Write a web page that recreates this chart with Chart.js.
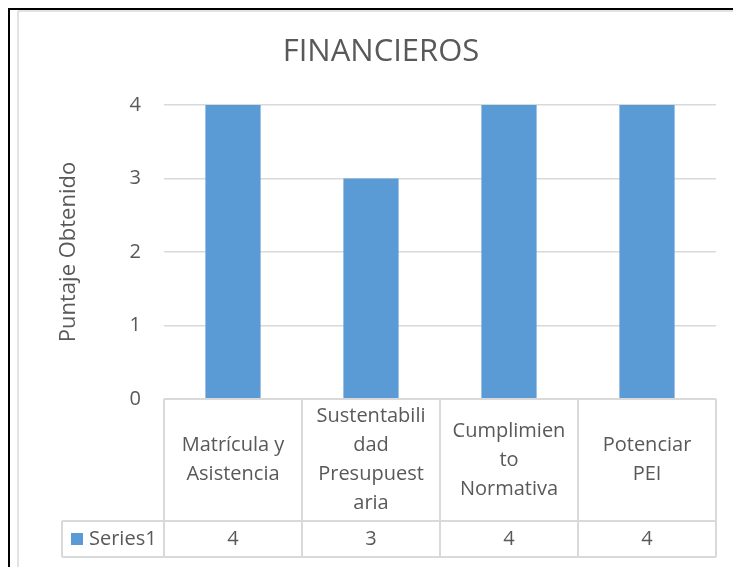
<!DOCTYPE html>
<html lang="es">
<head>
<meta charset="utf-8">
<title>FINANCIEROS</title>
<script src="https://cdn.jsdelivr.net/npm/chart.js@4/dist/chart.umd.min.js"></script>
<style>
  html, body { margin: 0; padding: 0; background: #ffffff; }
  #graficaFinancieros { display: block; }
</style>
</head>
<body>
<canvas id="graficaFinancieros" width="733" height="567"></canvas>
<script>
// --- Datos de la gráfica ---
const titulo = 'FINANCIEROS';
const tituloEjeY = 'Puntaje Obtenido';
const nombreSerie = 'Series1';
// Cada categoría ya viene partida en renglones, igual que en la tabla original
const categorias = [
    ['Matrícula y', 'Asistencia'],
    ['Sustentabili', 'dad', 'Presupuest', 'aria'],
    ['Cumplimien', 'to', 'Normativa'],
    ['Potenciar', 'PEI']
];
const valores = [4, 3, 4, 4];
const marcasEjeY = [0, 1, 2, 3, 4];

const colorTexto = '#595959';
const colorLinea = '#d9d9d9';
const colorBarra = '#5b9bd5';

Chart.defaults.font.family = '"Open Sans", sans-serif';
Chart.defaults.color = colorTexto;

// Plugin para el marco y la tabla de datos debajo del eje X
const tablaDatos = {
    id: 'tablaDatos',
    afterDraw(chart) {
        const ctx = chart.ctx;
        const area = chart.chartArea;
        const ejeX = chart.scales.x;
        const n = chart.data.labels.length;
        const ancho = (area.right - area.left) / n;
        const filaArriba = area.bottom;
        const filaMedia = 521;
        const filaAbajo = 557;
        const inicioLeyenda = 62;

        ctx.save();

        // 1. Marco de la hoja (negro) y borde del gráfico (gris)
        ctx.strokeStyle = '#000000';
        ctx.lineWidth = 2;
        ctx.beginPath();
        ctx.moveTo(8, 9); ctx.lineTo(733, 9);
        ctx.moveTo(9, 8); ctx.lineTo(9, 567);
        ctx.stroke();
        ctx.strokeStyle = colorLinea;
        ctx.lineWidth = 1.5;
        ctx.beginPath();
        ctx.moveTo(18, 11); ctx.lineTo(733, 11);
        ctx.moveTo(18, 11); ctx.lineTo(18, 567);
        ctx.stroke();

        // 2. Líneas de la tabla
        ctx.strokeStyle = colorLinea;
        ctx.lineWidth = 2;
        ctx.beginPath();
        ctx.moveTo(area.left, filaArriba); ctx.lineTo(area.right, filaArriba);
        ctx.moveTo(inicioLeyenda, filaMedia); ctx.lineTo(area.right, filaMedia);
        ctx.moveTo(inicioLeyenda, filaAbajo); ctx.lineTo(area.right, filaAbajo);
        ctx.moveTo(inicioLeyenda, filaMedia); ctx.lineTo(inicioLeyenda, filaAbajo);
        for (let i = 0; i <= n; i++) {
            const x = ejeX.getPixelForValue(i) - ancho / 2;
            ctx.moveTo(x, filaArriba); ctx.lineTo(x, filaAbajo);
        }
        ctx.stroke();

        // 3. Textos de categorías y valores
        ctx.fillStyle = colorTexto;
        ctx.font = '20px "Open Sans", sans-serif';
        ctx.textAlign = 'center';
        ctx.textBaseline = 'middle';
        const altoRenglon = 29;
        const centroCategorias = (filaArriba + filaMedia) / 2;
        const centroValores = (filaMedia + filaAbajo) / 2;
        chart.data.labels.forEach((renglones, i) => {
            const x = ejeX.getPixelForValue(i);
            const y0 = centroCategorias - (renglones.length - 1) * altoRenglon / 2;
            renglones.forEach((r, j) => ctx.fillText(r, x, y0 + j * altoRenglon));
            ctx.fillText(String(chart.data.datasets[0].data[i]), x, centroValores);
        });

        // 4. Leyenda dentro de la tabla
        ctx.fillStyle = colorBarra;
        ctx.fillRect(71, centroValores - 6, 12, 12);
        ctx.fillStyle = colorTexto;
        ctx.textAlign = 'left';
        ctx.fillText(chart.data.datasets[0].label, 89, centroValores);

        ctx.restore();
    }
};

function inicializarGrafica() {
    const canvas = document.getElementById('graficaFinancieros');
    if (!canvas) return;
    const ctx = canvas.getContext('2d');

    window.miGrafica = new Chart(ctx, {
        type: 'bar',
        data: {
            labels: categorias,
            datasets: [{
                label: nombreSerie,
                data: valores,
                backgroundColor: colorBarra,
                barPercentage: 0.4,
                categoryPercentage: 1.0
            }]
        },
        options: {
            responsive: false,
            animation: false,
            layout: {
                // el título queda centrado en el marco del gráfico, no en el lienzo
                padding: { top: 10, left: 46, right: 17, bottom: 168 }
            },
            plugins: {
                legend: { display: false },
                tooltip: { enabled: false },
                title: {
                    display: true,
                    text: titulo,
                    color: colorTexto,
                    font: { size: 31, weight: 'normal' },
                    padding: { top: 24, bottom: 33.8 }
                }
            },
            scales: {
                x: { display: false },
                y: {
                    min: marcasEjeY[0],
                    max: marcasEjeY[marcasEjeY.length - 1],
                    afterBuildTicks(eje) {
                        eje.ticks = marcasEjeY.map(v => ({ value: v }));
                    },
                    afterFit(eje) {
                        eje.width = 118;
                    },
                    border: { display: false },
                    grid: { color: colorLinea, lineWidth: 1.5, drawTicks: false },
                    ticks: {
                        padding: 23,
                        color: colorTexto,
                        font: { size: 20 }
                    },
                    title: {
                        display: true,
                        text: tituloEjeY,
                        color: colorTexto,
                        font: { size: 22, weight: 'normal' },
                        padding: { top: 10, bottom: 0 }
                    }
                }
            }
        },
        plugins: [tablaDatos]
    });
}

document.addEventListener('DOMContentLoaded', function() {
    inicializarGrafica();
});
</script>
</body>
</html>
